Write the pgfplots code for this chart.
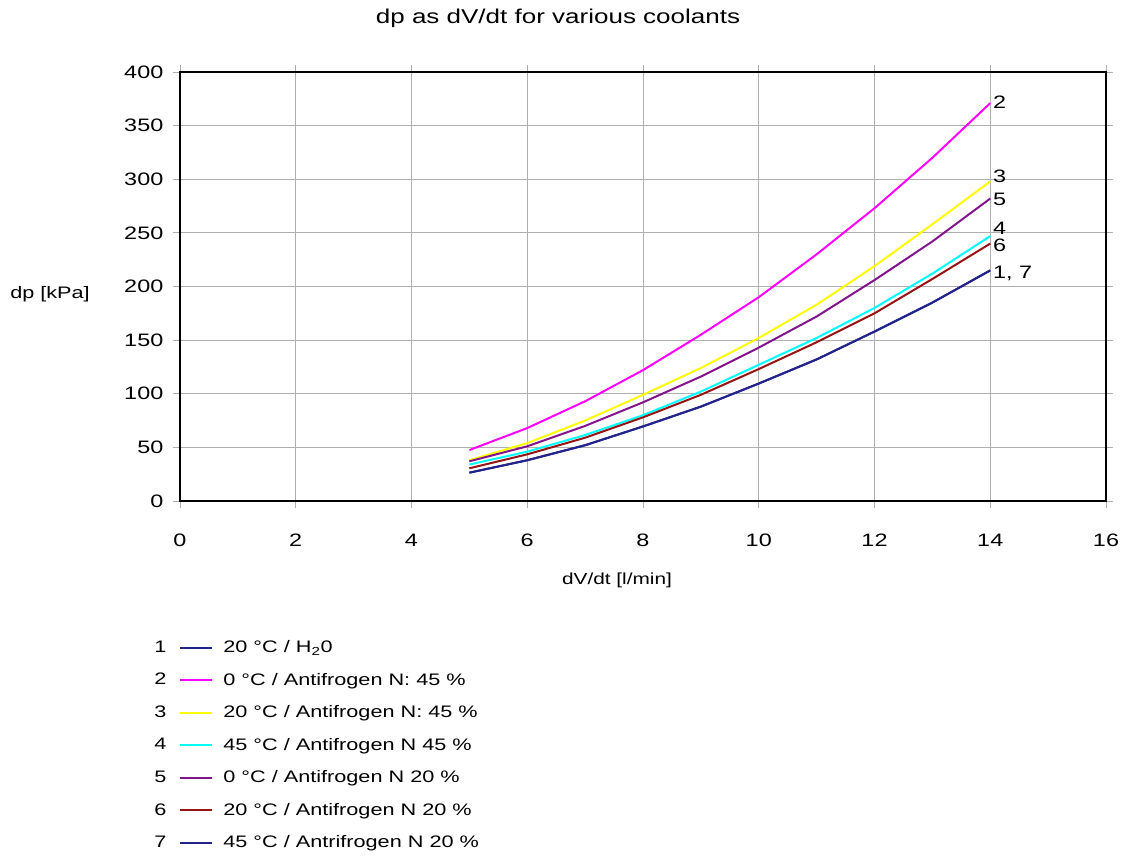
\documentclass[border=0pt]{standalone}
\usepackage{fontspec}
\setmainfont{Liberation Sans}[FakeStretch=1.3]
\usepackage{pgfplots}
\pgfplotsset{compat=1.18}
\definecolor{cnavy}{RGB}{35,35,140}
\definecolor{cmag}{RGB}{255,0,255}
\definecolor{cyel}{RGB}{255,255,0}
\definecolor{ccyan}{RGB}{0,255,255}
\definecolor{cpurp}{RGB}{130,20,140}
\definecolor{cbrown}{RGB}{150,20,20}
\definecolor{cgrid}{RGB}{175,175,175}
\pgfplotsset{lg/.style 2 args={legend image code/.code={\node[anchor=east,inner sep=0pt,text=black] at (-9.75pt,0pt) {#1}; \draw[draw=#2,line width=1.5pt] (0pt,0pt) -- (24pt,0pt);}}}
\begin{document}
\begin{tikzpicture}
\useasboundingbox (0,0) rectangle (841.5pt,642pt);
\begin{axis}[
  at={(135pt,266.25pt)}, anchor=south west, scale only axis,
  width=694.5pt, height=321.75pt,
  xmin=0, xmax=16, ymin=0, ymax=400,
  xtick={0,2,...,16}, ytick={0,50,...,400},
  grid=major, grid style={color=cgrid, line width=0.6pt},
  axis line style={black, line width=1.5pt},
  tick style={color=cgrid, line width=0.6pt}, tick align=outside, major tick length=5pt,
  /pgf/number format/assume math mode=true,
  ticklabel style={font=\fontsize{13.5}{16}\selectfont},
  yticklabel style={xshift=-4pt},
  xticklabel style={yshift=-16pt},
  every axis plot/.append style={line width=1.5pt},
  legend style={at={(-0.028,-0.303)}, anchor=north west, draw=none, fill=none, inner sep=0pt,
    font=\fontsize{12.5}{15}\selectfont, row sep=0pt,
    nodes={minimum height=24.4pt, inner sep=0pt},
    /tikz/every odd column/.style={column sep=7.5pt}},
  legend cell align=left,
]
\addplot[cnavy, lg={1}{cnavy}] coordinates {(5,26.4) (6,38) (7,52) (8,69.5) (9,88) (10,109.5) (11,132) (12,158) (13,185) (14,215)};
\addlegendentry{20 °C / H\textsubscript{2}0}
\addplot[cmag, lg={2}{cmag}] coordinates {(5,47.5) (6,68) (7,93) (8,122) (9,155) (10,190) (11,230) (12,273) (13,320) (14,371)};
\addlegendentry{0 °C / Antifrogen N: 45 \%}
\addplot[cyel, lg={3}{cyel}] coordinates {(5,38) (6,54) (7,75) (8,99) (9,124) (10,152) (11,183) (12,219) (13,258) (14,298)};
\addlegendentry{20 °C / Antifrogen N: 45 \%}
\addplot[ccyan, lg={4}{ccyan}] coordinates {(5,34) (6,46) (7,61.5) (8,80) (9,102) (10,127) (11,152) (12,180) (13,212) (14,247)};
\addlegendentry{45 °C / Antifrogen N 45 \%}
\addplot[cpurp, lg={5}{cpurp}] coordinates {(5,37) (6,51) (7,70) (8,92) (9,116) (10,143) (11,172) (12,206) (13,242) (14,282)};
\addlegendentry{0 °C / Antifrogen N 20 \%}
\addplot[cbrown, lg={6}{cbrown}] coordinates {(5,30.5) (6,43.5) (7,59) (8,78) (9,99) (10,123) (11,148) (12,175) (13,207) (14,240)};
\addlegendentry{20 °C / Antifrogen N 20 \%}
\addplot[cnavy, lg={7}{cnavy}] coordinates {(5,26.4) (6,38) (7,52) (8,69.5) (9,88) (10,109.5) (11,132) (12,158) (13,185) (14,215)};
\addlegendentry{45 °C / Antrifrogen N 20 \%}
\node[anchor=west, inner sep=2pt, font=\fontsize{13.5}{16}\selectfont] at (axis cs:14,372) {2};
\node[anchor=west, inner sep=2pt, font=\fontsize{13.5}{16}\selectfont] at (axis cs:14,303) {3};
\node[anchor=west, inner sep=2pt, font=\fontsize{13.5}{16}\selectfont] at (axis cs:14,281.6) {5};
\node[anchor=west, inner sep=2pt, font=\fontsize{13.5}{16}\selectfont] at (axis cs:14,254.5) {4};
\node[anchor=west, inner sep=2pt, font=\fontsize{13.5}{16}\selectfont] at (axis cs:14,238.7) {6};
\node[anchor=west, inner sep=2pt, font=\fontsize{13.5}{16}\selectfont] at (axis cs:14,212.6) {1, 7};
\end{axis}
\node[font=\fontsize{15}{18}\selectfont] at (418.5pt,628.5pt) {dp as dV/dt for various coolants};
\node[font=\fontsize{12.5}{15}\selectfont] at (37.5pt,421.5pt) {dp [kPa]};
\node[font=\fontsize{12}{15}\selectfont] at (462.75pt,207pt) {dV/dt [l/min]};
\end{tikzpicture}
\end{document}
